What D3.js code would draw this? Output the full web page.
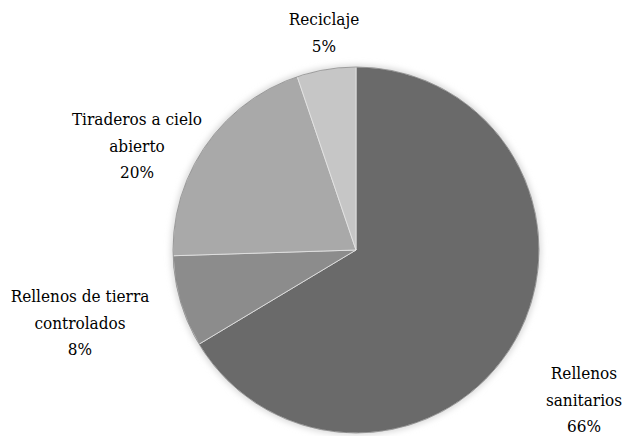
<!DOCTYPE html>
<html><head><meta charset="utf-8">
<script src="https://cdn.jsdelivr.net/npm/d3@7"></script>
<style>body{margin:0;background:#fff}svg{display:block}text{font-family:"DejaVu Serif Condensed","DejaVu Serif",serif;font-stretch:condensed}</style>
</head><body>
<script>
const categories = ["Rellenos sanitarios","Rellenos de tierra controlados","Tiraderos a cielo abierto","Reciclaje"];
const values = [66.4, 8.1, 20.3, 5.2];
const percentLabels = ["66%","8%","20%","5%"];
const labelLines = [["Rellenos","sanitarios"],["Rellenos de tierra","controlados"],["Tiraderos a cielo","abierto"],["Reciclaje"]];
const colors = ["#6a6a6a","#8c8c8c","#a9a9a9","#c6c6c6"];

const W = 622, H = 436, cx = 356, cy = 250, R = 183;
const svg = d3.select("body").append("svg").attr("width", W).attr("height", H);
const defs = svg.append("defs");
const f = defs.append("filter").attr("id","glow").attr("x","-20%").attr("y","-20%").attr("width","140%").attr("height","140%");
f.append("feGaussianBlur").attr("stdDeviation",3);

const g = svg.append("g").attr("transform", `translate(${cx},${cy})`);
g.append("circle").attr("r", R + 2).attr("fill", "#d8d8d8").attr("filter", "url(#glow)");

const pie = d3.pie().sort(null).value(d => d)(values);
const arc = d3.arc().innerRadius(0).outerRadius(R);
g.selectAll("path.slice").data(pie).join("path").attr("class","slice")
  .attr("d", arc).attr("fill", (d,i) => colors[i])
  .attr("stroke", "#e6e6e6").attr("stroke-width", 0.8);
g.append("circle").attr("r", R).attr("fill","none").attr("stroke","#5a5a5a").attr("stroke-opacity",0.5).attr("stroke-width",1);

const labelPos = [[584, 379],[80, 302],[137, 125],[324, 25]];
const lh = 26.5;
categories.forEach((c, i) => {
  const lines = labelLines[i].concat([percentLabels[i]]);
  const t = svg.append("text").attr("x", labelPos[i][0]).attr("y", labelPos[i][1])
    .attr("text-anchor","middle").attr("font-size", 17).attr("fill", "#000");
  lines.forEach((ln, j) => t.append("tspan").attr("x", labelPos[i][0]).attr("dy", j === 0 ? 0 : lh).text(ln));
});
</script>
</body></html>
